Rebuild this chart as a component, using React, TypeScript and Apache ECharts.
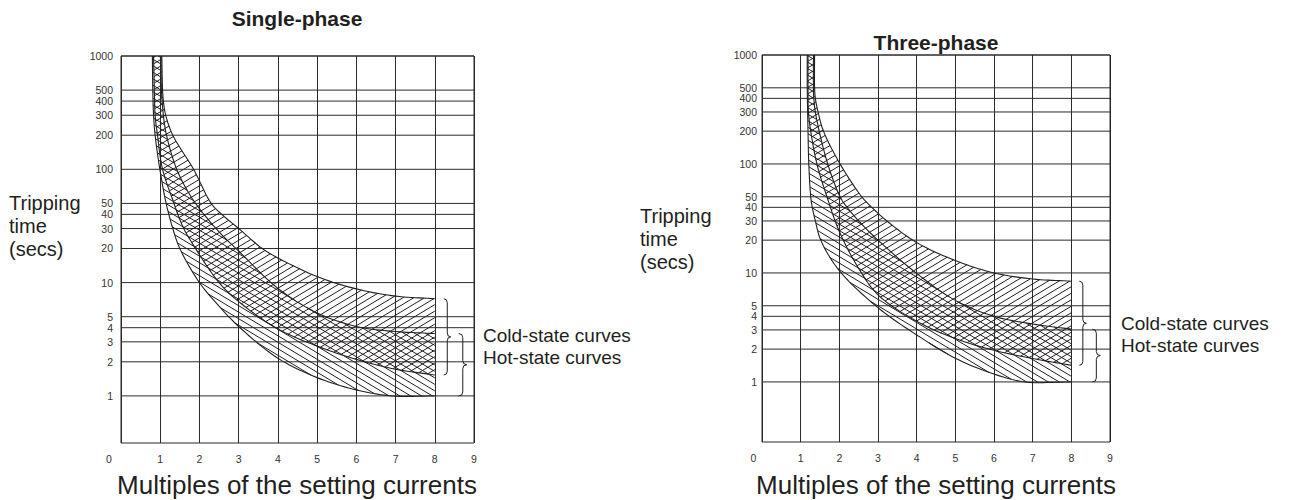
import React, { useEffect, useRef } from "react";
import * as echarts from "echarts";

// ---------- data ----------
const xTicks = [0, 1, 2, 3, 4, 5, 6, 7, 8, 9];
const yTicks = [1000, 500, 400, 300, 200, 100, 50, 40, 30, 20, 10, 5, 4, 3, 2, 1];

// Single-phase: [multiple of setting current, tripping time (s)]
const spColdUpper = [[1.04, 1000], [1.06, 500], [1.08, 400], [1.14, 300], [1.32, 200], [1.85, 100], [2.3, 50], [2.57, 40], [3.0, 30], [3.6, 20], [4, 16.5], [5, 11.3], [6, 8.8], [7, 7.6], [8, 7.2]];
const spColdLower = [[0.83, 1000], [0.85, 500], [0.87, 300], [0.93, 200], [1.06, 100], [1.35, 50], [1.45, 40], [1.6, 30], [1.9, 20], [2.5, 10], [3, 6.8], [4, 3.9], [5, 2.75], [6, 2.1], [7, 1.72], [8, 1.53]];
const spHotUpper = [[1.02, 1000], [1.03, 500], [1.05, 400], [1.08, 300], [1.16, 200], [1.42, 100], [1.75, 60], [2, 45], [2.5, 28], [3, 19], [4, 8.9], [5, 5.4], [6, 4.1], [7, 3.7], [8, 3.55]];
const spHotLower = [[0.8, 1000], [0.81, 500], [0.83, 300], [0.87, 200], [0.99, 100], [1.15, 50], [1.22, 40], [1.32, 30], [1.5, 20], [2, 10], [2.5, 6.2], [3, 4.1], [4, 2.15], [5, 1.45], [6, 1.13], [6.9, 1.0], [8, 1.0]];

// Three-phase
const tpColdUpper = [[1.36, 1000], [1.36, 500], [1.38, 400], [1.45, 300], [1.59, 200], [2.02, 100], [2.58, 50], [2.84, 40], [3.23, 30], [4, 19], [5, 13], [6, 10], [7, 8.8], [8, 8.4]];
const tpColdLower = [[1.19, 1000], [1.19, 500], [1.2, 300], [1.26, 200], [1.42, 100], [1.68, 50], [2, 24], [2.5, 11], [3, 6.3], [4, 3.6], [5, 2.5], [6, 1.95], [7, 1.64], [8, 1.42]];
const tpHotUpper = [[1.33, 1000], [1.33, 500], [1.34, 400], [1.38, 300], [1.48, 200], [1.7, 100], [2.02, 50], [2.2, 40], [2.5, 30], [3, 20], [4, 9.9], [5, 5.6], [6, 4.0], [7, 3.4], [8, 3.05]];
const tpHotLower = [[1.17, 1000], [1.17, 500], [1.18, 300], [1.19, 200], [1.21, 100], [1.26, 50], [1.3, 40], [1.38, 30], [1.52, 20], [2, 10.5], [3, 4.8], [4, 2.7], [5, 1.65], [6, 1.18], [6.8, 1.0], [8, 1.0]];

const titles = ["Single-phase", "Three-phase"];
const yName = ["Tripping", "time", "(secs)"];
const xName = "Multiples of the setting currents";
const legendTexts = ["Cold-state curves", "Hot-state curves"];

// ---------- drawing helpers ----------
const INK = "#231f20";
const FONT = '"Liberation Sans", Arial, sans-serif';

const HatchShape = echarts.graphic.extendShape({
  shape: { segs: [] as number[] },
  buildPath(ctx: any, shape: any) {
    const s = shape.segs;
    for (let i = 0; i + 3 < s.length; i += 4) {
      ctx.moveTo(s[i], s[i + 1]);
      ctx.lineTo(s[i + 2], s[i + 3]);
    }
  },
});
echarts.graphic.registerShape("hatchSegs", HatchShape);

const BraceShape = echarts.graphic.extendShape({
  shape: { x: 0, y1: 0, y2: 0, w: 7 },
  buildPath(ctx: any, sh: any) {
    const { x, y1, y2, w } = sh;
    const m = (y1 + y2) / 2;
    const r = Math.min(4, (y2 - y1) / 8);
    const h = w / 2;
    ctx.moveTo(x, y1);
    ctx.quadraticCurveTo(x + h, y1, x + h, y1 + r);
    ctx.lineTo(x + h, m - r);
    ctx.quadraticCurveTo(x + h, m, x + w, m);
    ctx.quadraticCurveTo(x + h, m, x + h, m + r);
    ctx.lineTo(x + h, y2 - r);
    ctx.quadraticCurveTo(x + h, y2, x, y2);
  },
});
echarts.graphic.registerShape("brace", BraceShape);

type P = number[];
function spline(pts: P[]): P[] {
  const n = pts.length;
  if (n < 3) return pts;
  const ext = (a: P, b: P): P => [2 * a[0] - b[0], 2 * a[1] - b[1]];
  const all = [ext(pts[0], pts[1]), ...pts, ext(pts[n - 1], pts[n - 2])];
  const out: P[] = [];
  const dist = (a: P, b: P) => Math.max(1e-3, Math.sqrt(Math.hypot(a[0] - b[0], a[1] - b[1])));
  for (let i = 1; i < all.length - 2; i++) {
    const p0 = all[i - 1], p1 = all[i], p2 = all[i + 1], p3 = all[i + 2];
    const t0 = 0, t1 = t0 + dist(p0, p1), t2 = t1 + dist(p1, p2), t3 = t2 + dist(p2, p3);
    const N = 10;
    for (let k = 0; k < N; k++) {
      const t = t1 + ((t2 - t1) * k) / N;
      const lerp = (a: P, b: P, ta: number, tb: number): P => [
        ((tb - t) / (tb - ta)) * a[0] + ((t - ta) / (tb - ta)) * b[0],
        ((tb - t) / (tb - ta)) * a[1] + ((t - ta) / (tb - ta)) * b[1],
      ];
      const A1 = lerp(p0, p1, t0, t1), A2 = lerp(p1, p2, t1, t2), A3 = lerp(p2, p3, t2, t3);
      const B1 = lerp(A1, A2, t0, t2), B2 = lerp(A2, A3, t1, t3);
      out.push(lerp(B1, B2, t1, t2));
    }
  }
  out.push(pts[n - 1]);
  return out;
}

function hatch(poly: P[], m: number, d: number): number[] {
  const vals = poly.map((p) => p[1] - m * p[0]);
  const lo = Math.min(...vals), hi = Math.max(...vals);
  const segs: number[] = [];
  for (let c = Math.ceil(lo / d) * d; c <= hi; c += d) {
    const xs: number[] = [];
    for (let i = 0; i < poly.length; i++) {
      const a = poly[i], b = poly[(i + 1) % poly.length];
      const fa = a[1] - m * a[0] - c, fb = b[1] - m * b[0] - c;
      if (fa < 0 !== fb < 0) {
        const t = fa / (fa - fb);
        xs.push(a[0] + t * (b[0] - a[0]));
      }
    }
    xs.sort((u, v) => u - v);
    for (let k = 0; k + 1 < xs.length; k += 2) {
      segs.push(xs[k], m * xs[k] + c, xs[k + 1], m * xs[k + 1] + c);
    }
  }
  return segs;
}

const SLOPE = 0.6;
const GAP = 6.5;

function bandRenderer(cu: P[], cl: P[], hu: P[], hl: P[], braceOff: number[]) {
  return (_params: any, api: any) => {
    const toPx = (arr: P[]) => spline(arr.map((p) => api.coord(p)));
    const CU = toPx(cu), CL = toPx(cl), HU = toPx(hu), HL = toPx(hl);
    const coldPoly = CU.concat(CL.slice().reverse());
    const hotPoly = HU.concat(HL.slice().reverse());
    const lineStyle = { stroke: INK, lineWidth: 1, fill: "none" };
    const children: any[] = [
      { type: "hatchSegs", shape: { segs: hatch(coldPoly, -SLOPE, GAP) }, style: { ...lineStyle } },
      { type: "hatchSegs", shape: { segs: hatch(hotPoly, SLOPE, GAP) }, style: { ...lineStyle } },
    ];
    [CU, CL, HU, HL].forEach((pts) =>
      children.push({ type: "polyline", shape: { points: pts }, style: { stroke: INK, lineWidth: 1.1, fill: "none" } })
    );
    const cTop = api.coord(cu[cu.length - 1]), cBot = api.coord(cl[cl.length - 1]);
    const hTop = api.coord(hu[hu.length - 1]), hBot = api.coord(hl[hl.length - 1]);
    children.push({ type: "brace", shape: { x: cTop[0] + braceOff[0], y1: cTop[1], y2: cBot[1], w: 7 }, style: { stroke: INK, lineWidth: 1, fill: "none" } });
    children.push({ type: "brace", shape: { x: hTop[0] + braceOff[1], y1: hTop[1], y2: hBot[1], w: 8 }, style: { stroke: INK, lineWidth: 1, fill: "none" } });
    return { type: "group", children };
  };
}

function gridLineRenderer(labelGap: number) {
  return (_params: any, api: any) => {
    const children: any[] = [];
    yTicks.forEach((v) => {
      const a = api.coord([xTicks[0], v]);
      const b = api.coord([xTicks[xTicks.length - 1], v]);
      children.push({ type: "line", shape: { x1: a[0], y1: a[1], x2: b[0], y2: b[1] }, style: { stroke: "#2b2b2b", lineWidth: 1 } });
      children.push({
        type: "text",
        x: a[0] - labelGap,
        y: a[1],
        style: { text: String(v), fill: "#333", fontSize: 10.5, fontFamily: FONT, align: "right", verticalAlign: "middle" },
      });
    });
    return { type: "group", children };
  };
}

const GRIDS = [
  { left: 121, top: 56, width: 353, height: 387, ymin: 0.384, zeroPad: 24 },
  { left: 762, top: 55, width: 348, height: 387, ymin: 0.281, zeroPad: 17 },
];

function buildOption() {
  const grid = GRIDS.map((g) => ({ left: g.left, top: g.top, width: g.width, height: g.height, show: true, borderColor: "#2b2b2b", borderWidth: 1, backgroundColor: "transparent" }));
  const xAxis = GRIDS.map((g, i) => ({
    type: "value",
    gridIndex: i,
    min: xTicks[0],
    max: xTicks[xTicks.length - 1],
    interval: 1,
    axisLine: { show: false },
    axisTick: { show: false },
    splitLine: { show: true, lineStyle: { color: "#2b2b2b", width: 1 } },
    axisLabel: {
      margin: 10,
      color: "#333",
      fontSize: 10.5,
      fontFamily: FONT,
      formatter: (v: number) => (v === 0 ? "{z|0}" : String(v)),
      rich: { z: { color: "#333", fontSize: 10.5, fontFamily: FONT, padding: [0, g.zeroPad, 0, 0] } },
    },
  }));
  const yAxis = GRIDS.map((g, i) => ({
    type: "log",
    logBase: 10,
    gridIndex: i,
    min: g.ymin,
    max: 1000,
    axisLine: { show: false },
    axisTick: { show: false },
    axisLabel: { show: false },
    splitLine: { show: false },
  }));
  const sets = [
    [spColdUpper, spColdLower, spHotUpper, spHotLower, [9, 24]],
    [tpColdUpper, tpColdLower, tpHotUpper, tpHotLower, [8, 21]],
  ];
  const series: any[] = [];
  sets.forEach((s: any, i) => {
    series.push({ type: "custom", name: "grid-" + i, xAxisIndex: i, yAxisIndex: i, silent: true, data: [[0, 1]], renderItem: gridLineRenderer(i === 0 ? 8 : 5), z: 1 });
    series.push({ type: "custom", name: "bands-" + i, xAxisIndex: i, yAxisIndex: i, silent: true, data: [[0, 1]], renderItem: bandRenderer(s[0], s[1], s[2], s[3], s[4]), z: 2 });
  });

  const txt = (text: string, x: number, y: number, size: number, opts: any = {}) => ({
    type: "text",
    x,
    y,
    silent: true,
    style: { text, fill: INK, font: `${opts.bold ? "bold " : ""}${size}px ${FONT}`, textAlign: opts.align || "left", textVerticalAlign: "middle", align: opts.align || "left", verticalAlign: "middle" },
  });
  const graphic: any[] = [];
  const panelText = [
    { cx: 297, titleY: 18, yNameX: 9, yNameY: 203, xNameY: 485, legX: 483, legY: 335 },
    { cx: 936, titleY: 42, yNameX: 640, yNameY: 216, xNameY: 485, legX: 1121, legY: 323 },
  ];
  panelText.forEach((p, i) => {
    graphic.push(txt(titles[i], p.cx, p.titleY, 21, { bold: true, align: "center" }));
    yName.forEach((t, k) => graphic.push(txt(t, p.yNameX, p.yNameY + k * 23, 20)));
    graphic.push(txt(xName, p.cx, p.xNameY, 26, { align: "center" }));
    legendTexts.forEach((t, k) => graphic.push(txt(t, p.legX, p.legY + k * 22, 19)));
  });

  return { animation: false, backgroundColor: "#fff", grid, xAxis, yAxis, series, graphic };
}

export default function App() {
  const ref = useRef<HTMLDivElement>(null);
  useEffect(() => {
    if (!ref.current) return;
    const chart = echarts.init(ref.current, undefined, { renderer: "svg" });
    chart.setOption(buildOption() as any);
    return () => chart.dispose();
  }, []);
  return <div ref={ref} style={{ position: "absolute", left: 0, top: 0, width: 1301, height: 500 }} />;
}
